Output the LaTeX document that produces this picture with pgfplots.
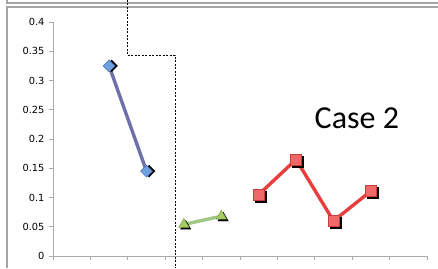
\documentclass[border=0pt]{standalone}
\usepackage{pgfplots}
\pgfplotsset{compat=1.18}
\usepackage{fontspec}
\setmainfont{DejaVu Sans}
\newfontfamily\casefont{Carlito}
\definecolor{axgrey}{RGB}{170,170,170}
\definecolor{frgrey}{RGB}{165,165,165}
\definecolor{blueline}{RGB}{110,112,170}
\definecolor{bluemark}{RGB}{110,160,225}
\definecolor{blueedge}{RGB}{75,110,175}
\definecolor{greenline}{RGB}{160,200,130}
\definecolor{greenmark}{RGB}{165,205,100}
\definecolor{greenedge}{RGB}{120,160,70}
\definecolor{redline}{RGB}{232,62,62}
\definecolor{redmark}{RGB}{240,105,105}
\definecolor{rededge}{RGB}{200,60,60}
\begin{document}
\begin{tikzpicture}[x=1pt,y=1pt]
\useasboundingbox (0,0) rectangle (438,268);
% outer frame
\draw[frgrey,line width=1.5pt] (7,268) -- (7,265) -- (438,265);
\draw[frgrey,line width=1.5pt] (438,261) -- (7,261) -- (7,0);
\begin{axis}[
  scale only axis,
  width=374pt, height=234pt,
  at={(53pt,12pt)}, anchor=south west,
  xmin=0, xmax=10, ymin=0, ymax=0.4,
  axis x line=bottom, axis y line=left,
  axis line style={axgrey, line width=1pt, -},
  xtick={0,1,...,10}, xticklabels={},
  ytick={0,0.05,...,0.4},
  yticklabels={0,0.05,0.1,0.15,0.2,0.25,0.3,0.35,0.4},
  tick style={axgrey, line width=0.8pt},
  major tick length=4pt,
  tick align=outside,
  yticklabel style={font=\fontsize{9.8}{10}\selectfont, xshift=-1pt},
  clip=false,
]
% blue series
\addplot[blueline, line width=3.4pt] coordinates {(1.5,0.325) (2.5,0.145)};
\addplot[only marks, mark=square*, mark size=4.2pt, mark options={rotate=45, fill=black, draw=black, xshift=1.8pt, yshift=-1.8pt}] coordinates {(1.5,0.325) (2.5,0.145)};
\addplot[only marks, mark=square*, mark size=4.2pt, mark options={rotate=45, fill=bluemark, draw=blueedge, line width=0.5pt}] coordinates {(1.5,0.325) (2.5,0.145)};
% green series
\addplot[greenline, line width=3.4pt] coordinates {(3.5,0.054) (4.5,0.068)};
\addplot[only marks, mark=triangle*, mark size=6pt, mark options={fill=black, draw=black, xshift=1.8pt, yshift=-1.8pt}] coordinates {(3.5,0.054) (4.5,0.068)};
\addplot[only marks, mark=triangle*, mark size=6pt, mark options={fill=greenmark, draw=greenedge, line width=0.5pt}] coordinates {(3.5,0.054) (4.5,0.068)};
% red series
\addplot[redline, line width=3.4pt] coordinates {(5.5,0.105) (6.5,0.165) (7.5,0.06) (8.5,0.111)};
\addplot[only marks, mark=square*, mark size=5.5pt, mark options={fill=black, draw=black, xshift=1.8pt, yshift=-1.8pt}] coordinates {(5.5,0.105) (6.5,0.165) (7.5,0.06) (8.5,0.111)};
\addplot[only marks, mark=square*, mark size=5.5pt, mark options={fill=redmark, draw=rededge, line width=0.5pt}] coordinates {(5.5,0.105) (6.5,0.165) (7.5,0.06) (8.5,0.111)};
\end{axis}
% dashed annotation
\draw[black, dashed, line width=0.8pt, dash pattern=on 2pt off 1.5pt] (127,268) -- (127,212.5) -- (175,212.5) -- (175,0);
\node[anchor=base west, inner sep=0pt, font=\casefont\fontsize{32}{34}\selectfont] at (314.5,140) {Case 2};
\end{tikzpicture}
\end{document}
